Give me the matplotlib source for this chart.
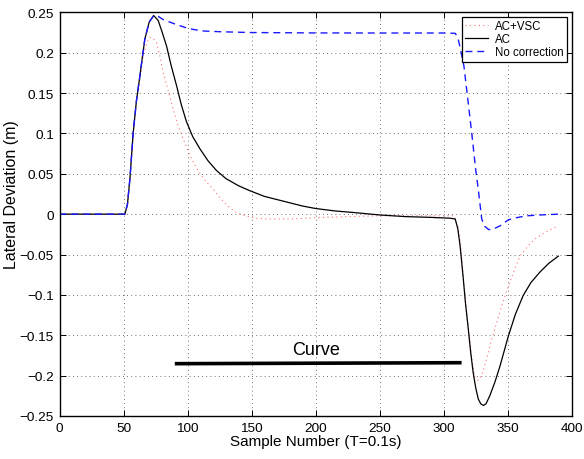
import matplotlib
matplotlib.use("Agg")
import matplotlib.pyplot as plt

plt.rcParams['font.family'] = ['Liberation Sans', 'DejaVu Sans']

# ---- data ----
ac_x = [0, 50, 51, 53, 55, 57.5, 60, 62.7, 66.6, 70, 73.5, 77, 80, 83.6, 87, 91.4, 95, 99,
        104, 109.6, 116, 122.6, 130, 140, 148.7, 160, 175, 190, 200, 215, 230, 250, 270,
        290, 305, 309, 311, 312.8, 315.3, 317, 319.2, 321, 323, 325, 327, 329, 331, 333,
        336, 340, 344, 350.5, 356, 362, 368, 375, 382, 389.5]
ac_y = [0, 0, 0, 0.012, 0.045, 0.101, 0.14, 0.171, 0.217, 0.238, 0.246, 0.240, 0.226,
        0.208, 0.185, 0.159, 0.136, 0.115, 0.096, 0.081, 0.066, 0.054, 0.044, 0.035,
        0.029, 0.022, 0.016, 0.010, 0.007, 0.004, 0.002, -0.001, -0.003, -0.004, -0.005,
        -0.006, -0.018, -0.039, -0.080, -0.110, -0.142, -0.170, -0.196, -0.215, -0.229,
        -0.235, -0.237, -0.235, -0.225, -0.208, -0.188, -0.151, -0.124, -0.101, -0.085,
        -0.072, -0.061, -0.052]

vsc_x = [0, 50, 51, 53, 55, 57.5, 60, 62.7, 65, 68, 70.5, 73, 75.8, 78, 81, 85, 88.8, 92,
         96.6, 102, 108, 114, 120, 126, 133, 138, 145, 153, 162, 180, 200, 225, 250, 275,
         300, 308, 311, 313, 315.3, 317, 319.2, 322, 324.4, 327, 330, 333.6, 337, 341.4,
         346, 350.5, 355, 359.6, 366, 372.6, 381, 389.5]
vsc_y = [0, 0, 0, 0.012, 0.045, 0.100, 0.138, 0.166, 0.193, 0.212, 0.219, 0.218, 0.212,
         0.198, 0.175, 0.152, 0.130, 0.112, 0.093, 0.072, 0.054, 0.041, 0.031, 0.019,
         0.008, 0.002, -0.002, -0.005, -0.006, -0.006, -0.0045, -0.003, -0.002, -0.002,
         -0.002, -0.002, -0.015, -0.035, -0.078, -0.108, -0.140, -0.180, -0.202, -0.206,
         -0.198, -0.179, -0.158, -0.134, -0.110, -0.089, -0.070, -0.052, -0.039, -0.029,
         -0.021, -0.0145]

nc_x = [0, 50, 51, 53, 55, 57.5, 60, 62.7, 66.6, 70, 73.5, 77, 81, 86, 91, 100.5, 111,
        125, 148.7, 200, 250, 300, 309, 311, 313, 315.8, 319, 322, 325, 327, 329.7, 332,
        335, 338, 344, 350.5, 358, 365, 375, 389.5]
nc_y = [0, 0, 0, 0.012, 0.045, 0.101, 0.14, 0.171, 0.217, 0.238, 0.246, 0.245, 0.241,
        0.238, 0.235, 0.230, 0.227, 0.226, 0.225, 0.2245, 0.2244, 0.2244, 0.224, 0.219,
        0.205, 0.1835, 0.140, 0.099, 0.055, 0.031, -0.006, -0.015, -0.019, -0.019,
        -0.0145, -0.007, -0.004, -0.002, -0.001, 0.0]

curve_x = [90, 314]
curve_y = [-0.1852, -0.1840]
curve_label = "Curve"
curve_label_pos = (200, -0.168)

x_ticks = [0, 50, 100, 150, 200, 250, 300, 350, 400]
y_ticks = [0.25, 0.2, 0.15, 0.1, 0.05, 0, -0.05, -0.1, -0.15, -0.2, -0.25]
y_tick_labels = ['0.25', '0.2', '0.15', '0.1', '0.05', '0', '\u22120.05', '\u22120.1',
                 '\u22120.15', '\u22120.2', '\u22120.25']

fig = plt.figure(figsize=(5.84, 4.6), dpi=100)
ax = fig.add_axes([0.102, 0.0935, 0.877, 0.8775])

ax.plot(vsc_x, vsc_y, color='#ff7070', lw=0.8, linestyle=(0, (1, 3)), label='AC+VSC')
ax.plot(ac_x, ac_y, color='black', lw=0.9, label='AC')
ax.plot(nc_x, nc_y, color='#1a1aff', lw=1.0, linestyle=(0, (5, 3.5)), label='No correction')

ax.plot(curve_x, curve_y, color='black', lw=2.6, solid_capstyle='butt')
ax.text(curve_label_pos[0], curve_label_pos[1], curve_label, ha='center', va='center',
        fontsize=13)

ax.set_xlim(0, 400)
ax.set_ylim(-0.25, 0.25)
ax.set_xticks(x_ticks)
ax.set_yticks(y_ticks)
ax.set_yticklabels(y_tick_labels)
ax.tick_params(direction='in', top=True, right=True, length=4, width=0.7,
               labelsize=9.7, pad=4)
ax.grid(True, linestyle=(0, (1, 4)), color='#444444', lw=0.6)
for s in ax.spines.values():
    s.set_linewidth(1.0)

ax.set_xlabel('Sample Number (T=0.1s)', fontsize=11, labelpad=0)
ax.set_ylabel('Lateral Deviation (m)', fontsize=11.5)
ax.yaxis.set_label_coords(-0.079, 0.55)

leg = ax.legend(loc='upper right', fontsize=8.3, frameon=True, fancybox=False,
                edgecolor='black', framealpha=1, borderpad=0.3, labelspacing=0.08,
                handlelength=2.0, handletextpad=0.6, borderaxespad=0.4)
leg.get_frame().set_linewidth(0.9)

fig.savefig('out.png', dpi=100)
